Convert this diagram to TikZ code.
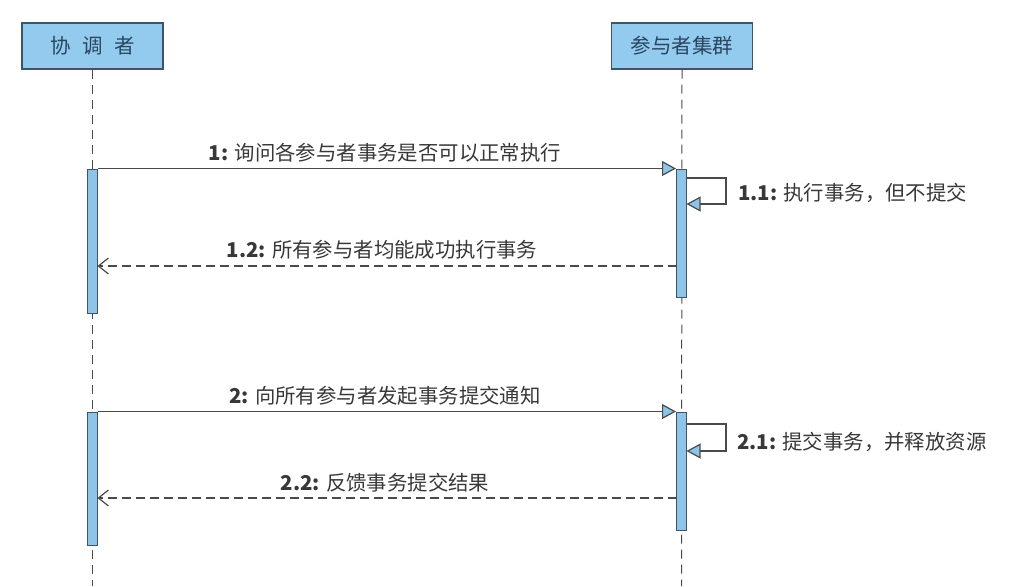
\documentclass[tikz,border=0pt]{standalone}
\usepackage{fontspec}
\setmainfont{Noto Sans CJK SC}
\usetikzlibrary{arrows.meta}
\definecolor{boxfill}{HTML}{93CBEE}
\definecolor{barfill}{HTML}{8EC4E8}
\definecolor{edge}{HTML}{3E5566}
\definecolor{boxtext}{HTML}{2A4660}
\definecolor{msgtext}{HTML}{383838}
\definecolor{msgline}{HTML}{4A4A4A}
\tikzset{
  actorbox/.style={draw=edge, line width=1.3pt, fill=boxfill, minimum width=141pt, minimum height=46pt, inner sep=0pt, text=boxtext, font=\fontsize{20.5}{20.5}\selectfont},
  actbar/.style={draw=edge, line width=1pt, fill=barfill, minimum width=10pt, inner sep=0pt},
  lifeline/.style={draw=msgline, line width=1pt, dash pattern=on 9pt off 6pt},
  callmsg/.style={draw=msgline, line width=1.2pt, -{Triangle[length=14pt,width=15pt,fill=barfill]}},
  retmsg/.style={draw=msgline, line width=1.2pt, dash pattern=on 9pt off 5pt, -{Straight Barb[length=10pt,width=16pt]}},
  msglabel/.style={text=msgtext, inner sep=0pt, font=\fontsize{20.4}{20.4}\selectfont},
}
\begin{document}
\begin{tikzpicture}[x=1pt,y=-1pt]
\useasboundingbox[fill=white] (0,0) rectangle (1022,586);
% actors
\node[actorbox] (coord) at (92.5,46) {协\hspace{0.55em}调\hspace{0.55em}者};
\node[actorbox] (part) at (682,46) {参与者集群};
\coordinate (coordend) at (92.5,586);
\coordinate (partend) at (681.5,586);
\draw[lifeline] (coord.south) -- (coordend);
\draw[lifeline] (part.south) -- (partend);
% activation bars
\node[actbar, minimum height=144pt] (a1) at (92.5,241) {};
\node[actbar, minimum height=128pt] (b1) at (681.5,233) {};
\node[actbar, minimum height=133pt] (a2) at (92.5,478.5) {};
\node[actbar, minimum height=118pt] (b2) at (681.5,471) {};
% phase 1
\draw[callmsg] (a1.north east) -- (b1.north west);
\node[msglabel] (m1) at (385,153) {\textbf{1:} 询问各参与者事务是否可以正常执行};
\coordinate (s1a) at (686.5,178);
\coordinate (s1b) at (726,178);
\coordinate (s1c) at (726,204);
\coordinate (s1d) at (686.5,204);
\draw[callmsg] (s1a) -- (s1b) -- (s1c) -- (s1d);
\node[msglabel, anchor=west] (m11) at (738,193) {\textbf{1.1:} 执行事务，但不提交};
\coordinate (r1a) at (676.5,266);
\coordinate (r1b) at (97.5,266);
\draw[retmsg] (r1a) -- (r1b);
\node[msglabel] (m12) at (382,250) {\textbf{1.2:} 所有参与者均能成功执行事务};
% phase 2
\draw[callmsg] (a2.north east) -- (b2.north west);
\node[msglabel] (m2) at (385,396) {\textbf{2:} 向所有参与者发起事务提交通知};
\coordinate (s2a) at (686.5,424);
\coordinate (s2b) at (726,424);
\coordinate (s2c) at (726,451);
\coordinate (s2d) at (686.5,451);
\draw[callmsg] (s2a) -- (s2b) -- (s2c) -- (s2d);
\node[msglabel, anchor=west] (m21) at (737,442) {\textbf{2.1:} 提交事务，并释放资源};
\coordinate (r2a) at (676.5,498);
\coordinate (r2b) at (97.5,498);
\draw[retmsg] (r2a) -- (r2b);
\node[msglabel] (m22) at (385,483) {\textbf{2.2:} 反馈事务提交结果};
\end{tikzpicture}
\end{document}
